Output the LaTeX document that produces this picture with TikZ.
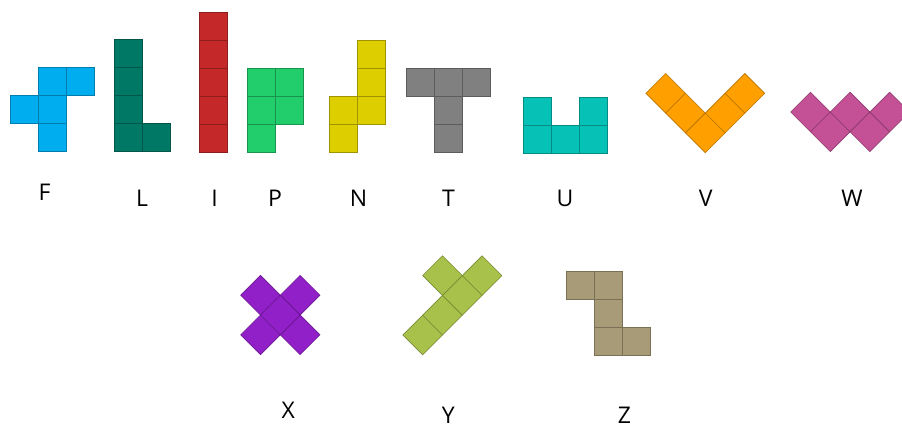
\documentclass[tikz,border=0pt]{standalone}
\usepackage{fontspec}
\setmainfont{Open Sans}
\definecolor{cF}{RGB}{0,174,239}
\definecolor{cL}{RGB}{0,120,102}
\definecolor{cI}{RGB}{196,40,40}
\definecolor{cP}{RGB}{34,206,108}
\definecolor{cN}{RGB}{221,206,0}
\definecolor{cT}{RGB}{128,128,128}
\definecolor{cU}{RGB}{6,194,182}
\definecolor{cV}{RGB}{255,160,0}
\definecolor{cW}{RGB}{196,80,150}
\definecolor{cX}{RGB}{146,32,200}
\definecolor{cY}{RGB}{168,193,74}
\definecolor{cZ}{RGB}{168,155,120}
\newcommand\psq[3]{\draw[cell=#1] (#2,#3) rectangle ++(28,28);}
\newcommand\pdm[3]{\draw[cell=#1] ({#2-19.8},#3) -- (#2,{#3-19.8}) -- ({#2+19.8},#3) -- (#2,{#3+19.8}) -- cycle;}
\begin{document}
\begin{tikzpicture}[x=1pt,y=-1pt,
  cell/.style={fill=#1,draw=#1!72!black,line width=0.6pt,line join=miter},
  lbl/.style={inner sep=0pt,font=\fontsize{23}{23}\selectfont,text=black}]
\useasboundingbox (0,0) rectangle (902,429);
\begin{scope}
\clip (0,0) rectangle (902,429);
% F
\psq{cF}{38}{67.5}\psq{cF}{66}{67.5}\psq{cF}{10}{95.5}\psq{cF}{38}{95.5}\psq{cF}{38}{123.5}
% L
\psq{cL}{114.5}{39.5}\psq{cL}{114.5}{67.5}\psq{cL}{114.5}{95.5}\psq{cL}{114.5}{123.5}\psq{cL}{142.5}{123.5}
% I
\psq{cI}{199.5}{12}\psq{cI}{199.5}{40}\psq{cI}{199.5}{68}\psq{cI}{199.5}{96}\psq{cI}{199.5}{124}
% P
\psq{cP}{247}{68.5}\psq{cP}{275}{68.5}\psq{cP}{247}{96.5}\psq{cP}{275}{96.5}\psq{cP}{247}{124.5}
% N
\psq{cN}{357.5}{40.5}\psq{cN}{357.5}{68.5}\psq{cN}{357.5}{96.5}\psq{cN}{329.5}{96.5}\psq{cN}{329.5}{124.5}
% T
\psq{cT}{406.5}{68.5}\psq{cT}{434.5}{68.5}\psq{cT}{462.5}{68.5}\psq{cT}{434.5}{96.5}\psq{cT}{434.5}{124.5}
% U
\psq{cU}{523.5}{97.5}\psq{cU}{579.5}{97.5}\psq{cU}{523.5}{125.5}\psq{cU}{551.5}{125.5}\psq{cU}{579.5}{125.5}
% V
\pdm{cV}{665.7}{93.3}\pdm{cV}{685.5}{113.1}\pdm{cV}{705.3}{132.9}\pdm{cV}{725.1}{113.1}\pdm{cV}{744.9}{93.3}
% W
\pdm{cW}{810.5}{112}\pdm{cW}{830.3}{131.8}\pdm{cW}{850.1}{112}\pdm{cW}{869.9}{131.8}\pdm{cW}{889.7}{112}
% X
\pdm{cX}{260.5}{295.2}\pdm{cX}{300.1}{295.2}\pdm{cX}{260.5}{334.8}\pdm{cX}{300.1}{334.8}\pdm{cX}{280.3}{315}
% Y
\pdm{cY}{422.7}{335}\pdm{cY}{442.5}{315.2}\pdm{cY}{462.3}{295.4}\pdm{cY}{482.1}{275.6}\pdm{cY}{442.5}{275.6}
% Z
\psq{cZ}{566}{271.5}\psq{cZ}{594}{271.5}\psq{cZ}{594}{299.5}\psq{cZ}{594}{327.5}\psq{cZ}{622}{327.5}
\end{scope}
% labels
\node[lbl] (lF) at (44.5,192.5) {F};
\node[lbl] (lL) at (142,197.8) {L};
\node[lbl] (lI) at (214.5,197.8) {I};
\node[lbl] (lP) at (275,197.8) {P};
\node[lbl] (lN) at (358.5,197.8) {N};
\node[lbl] (lT) at (448.5,197.8) {T};
\node[lbl] (lU) at (565,198.5) {U};
\node[lbl] (lV) at (705.8,198.5) {V};
\node[lbl] (lW) at (852,198.5) {W};
\node[lbl] (lX) at (288.3,410) {X};
\node[lbl] (lY) at (448.3,415) {Y};
\node[lbl] (lZ) at (624.5,415) {Z};
\end{tikzpicture}
\end{document}
